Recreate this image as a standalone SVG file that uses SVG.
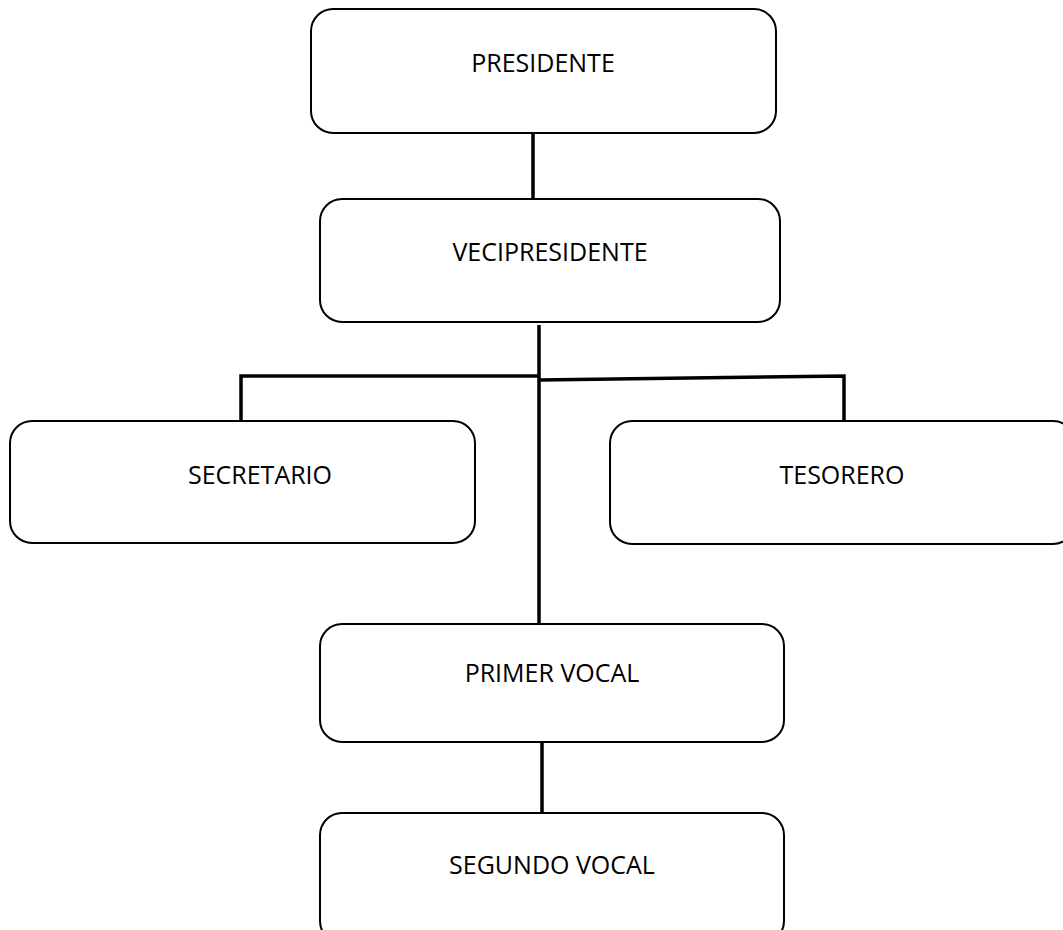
<svg xmlns="http://www.w3.org/2000/svg" width="1063" height="930" viewBox="0 0 1063 930">
<style>
.box{fill:#fff;stroke:#000;stroke-width:2}
.lbl{font-family:"Open Sans","Liberation Sans",sans-serif;font-size:25px;fill:#000;text-anchor:middle}
.con{stroke:#000;stroke-width:3.5;fill:none}
</style>
<rect width="1063" height="930" fill="#fff"/>
<g id="connectors">
<line class="con" x1="533" y1="132" x2="533" y2="200"/>
<line class="con" x1="539" y1="325" x2="539" y2="624"/>
<polyline class="con" points="241,421 241,376 539,376"/>
<polyline class="con" points="539,380 844,376 844,421"/>
<line class="con" x1="542" y1="742" x2="542" y2="816"/>
</g>
<g id="presidente"><rect class="box" x="311" y="9" width="465" height="124" rx="22"/><text class="lbl" x="543" y="72">PRESIDENTE</text></g>
<g id="vicepresidente"><rect class="box" x="320" y="199" width="460" height="123" rx="22"/><text class="lbl" x="550" y="261">VECIPRESIDENTE</text></g>
<g id="secretario"><rect class="box" x="10" y="421" width="465" height="122" rx="22"/><text class="lbl" x="260" y="484">SECRETARIO</text></g>
<g id="tesorero"><rect class="box" x="610" y="421" width="465" height="123" rx="22"/><text class="lbl" x="842" y="484">TESORERO</text></g>
<g id="primer-vocal"><rect class="box" x="320" y="624" width="464" height="118" rx="22"/><text class="lbl" x="552" y="682">PRIMER VOCAL</text></g>
<g id="segundo-vocal"><rect class="box" x="320" y="813" width="464" height="130" rx="22"/><text class="lbl" x="552" y="874">SEGUNDO VOCAL</text></g>
</svg>
